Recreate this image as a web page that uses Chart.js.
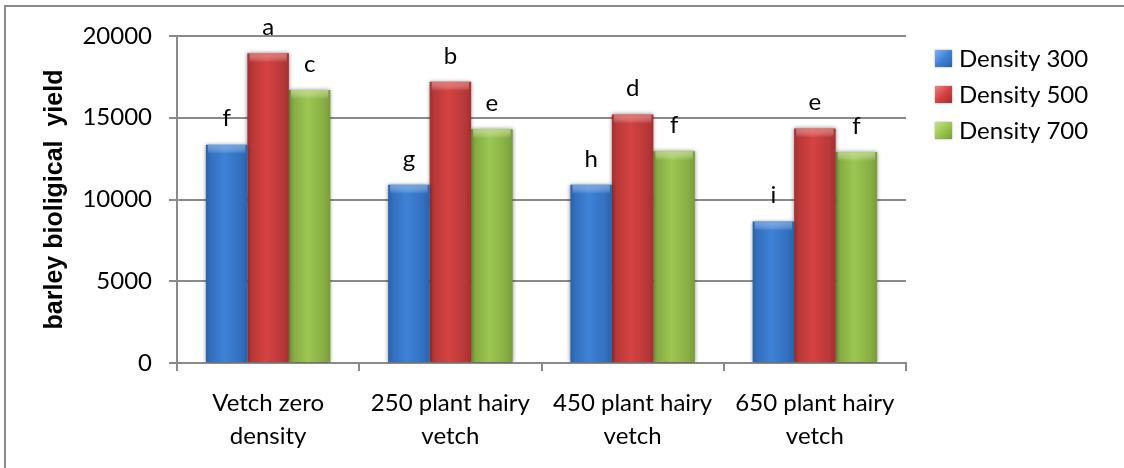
<!DOCTYPE html>
<html>
<head>
<meta charset="utf-8">
<script src="https://cdn.jsdelivr.net/npm/chart.js@4.4.1/dist/chart.umd.min.js"></script>
<style>
  html, body { margin: 0; padding: 0; background: #fff; }
  #wrap { width: 1124px; height: 468px; position: relative; }
  canvas { display: block; }
</style>
</head>
<body>
<div id="wrap"><canvas id="c" width="1124" height="468"></canvas></div>
<script>
// Barley biological yield by vetch density (x) and barley density (series)
const categories = [
  ["Vetch zero", "density"],
  ["250 plant hairy", "vetch"],
  ["450 plant hairy", "vetch"],
  ["650 plant hairy", "vetch"]
];
const seriesNames = ["Density 300", "Density 500", "Density 700"];
const density300 = [13350, 10900, 10900, 8650];
const density500 = [18950, 17200, 15200, 14350];
const density700 = [16700, 14300, 12950, 12900];
// Mean-separation letters shown above each bar
const letters300 = ["f", "g", "h", "i"];
const letters500 = ["a", "b", "d", "e"];
const letters700 = ["c", "e", "f", "f"];
const yTickValues = [0, 5000, 10000, 15000, 20000];
const yAxisTitle = "barley bioligical  yield";

const CAT_PCT = 0.683;
const palettes = [
  { dark: "#2a62aa", mid: "#3e82d6", edge: "#336fbf", light: "#7fb2ee" },
  { dark: "#a33030", mid: "#d64242", edge: "#b83838", light: "#ec8585" },
  { dark: "#789c38", mid: "#9cc752", edge: "#87ad44", light: "#c4e28c" }
];
const seriesLetters = [letters300, letters500, letters700];
const GRID = "#8a8a8a";
const FONT = "Lato, 'Open Sans', sans-serif";

// Horizontal shading across each bar, computed from the category scale
function barFill(ctx) {
  const pal = palettes[ctx.datasetIndex];
  const xs = ctx.chart.scales.x;
  if (!xs || ctx.type !== "data" || !xs.width) return pal.mid;
  const catW = xs.width / categories.length;
  const barW = catW * CAT_PCT / 3;
  const center = xs.getPixelForValue(ctx.dataIndex);
  const left = center - 1.5 * barW + ctx.datasetIndex * barW;
  const g = ctx.chart.ctx.createLinearGradient(left, 0, left + barW, 0);
  g.addColorStop(0, pal.dark);
  g.addColorStop(0.12, pal.edge);
  g.addColorStop(0.45, pal.mid);
  g.addColorStop(0.85, pal.edge);
  g.addColorStop(1, pal.dark);
  return g;
}

const framePlugin = {
  id: "frame",
  beforeDraw(chart) {
    const c = chart.ctx;
    c.save();
    c.fillStyle = "#fff";
    c.fillRect(0, 0, chart.width, chart.height);
    c.strokeStyle = "#8c8c8c";
    c.lineWidth = 2;
    c.beginPath();
    c.moveTo(5, chart.height + 2);
    c.lineTo(5, 6);
    c.lineTo(chart.width + 2, 6);
    c.stroke();
    c.restore();
  }
};

const barDecor = {
  id: "barDecor",
  beforeDatasetsDraw(chart) {
    const c = chart.ctx;
    c.save();
    c.shadowColor = "rgba(0,0,0,0.45)";
    c.shadowBlur = 4;
  },
  afterDatasetsDraw(chart) {
    const c = chart.ctx;
    c.restore();
    // soft bevel along the top of each bar
    chart.data.datasets.forEach((ds, di) => {
      const pal = palettes[di];
      chart.getDatasetMeta(di).data.forEach(el => {
        const w = el.width, x0 = el.x - w / 2, y0 = el.y;
        const g = c.createLinearGradient(0, y0, 0, y0 + 9);
        g.addColorStop(0, pal.light);
        g.addColorStop(1, "rgba(255,255,255,0)");
        c.save();
        c.fillStyle = g;
        c.globalAlpha = 0.7;
        c.fillRect(x0 + 2, y0, w - 4, 9);
        c.restore();
      });
    });
    // letters above bars
    c.save();
    c.font = "24px " + FONT;
    c.fillStyle = "#000";
    c.textAlign = "center";
    c.textBaseline = "middle";
    chart.data.datasets.forEach((ds, di) => {
      chart.getDatasetMeta(di).data.forEach((el, i) => {
        c.fillText(seriesLetters[di][i], el.x, el.y - 26);
      });
    });
    c.restore();
  }
};

const legendPlugin = {
  id: "sideLegend",
  afterDraw(chart) {
    const c = chart.ctx;
    c.save();
    c.font = "24px " + FONT;
    c.textBaseline = "middle";
    c.textAlign = "left";
    chart.data.datasets.forEach((ds, di) => {
      const pal = palettes[di];
      const cy = 58 + di * 36;
      const bx = 935, by = cy - 8, bs = 17;
      const g = c.createLinearGradient(bx, by, bx + bs, by + bs);
      g.addColorStop(0, pal.light);
      g.addColorStop(0.5, pal.mid);
      g.addColorStop(1, pal.dark);
      c.save();
      c.shadowColor = "rgba(0,0,0,0.35)";
      c.shadowBlur = 2;
      c.fillStyle = g;
      c.fillRect(bx, by, bs, bs);
      c.restore();
      c.fillStyle = "#000";
      c.fillText(ds.label, 959, cy + 1);
    });
    c.restore();
  }
};

new Chart(document.getElementById("c"), {
  type: "bar",
  data: {
    labels: categories,
    datasets: [
      { label: seriesNames[0], data: density300, backgroundColor: barFill },
      { label: seriesNames[1], data: density500, backgroundColor: barFill },
      { label: seriesNames[2], data: density700, backgroundColor: barFill }
    ]
  },
  options: {
    responsive: false,
    animation: false,
    devicePixelRatio: 1,
    layout: { padding: { top: 36, right: 218, bottom: 0, left: 0 } },
    datasets: { bar: { barPercentage: 1, categoryPercentage: CAT_PCT, borderWidth: 0 } },
    plugins: { legend: { display: false }, tooltip: { enabled: false } },
    scales: {
      x: {
        offset: true,
        grid: { drawOnChartArea: false, drawTicks: true, tickLength: 8, color: GRID, lineWidth: 2, offset: true },
        border: { color: GRID, width: 2 },
        ticks: { color: "#000", font: { family: FONT, size: 24, lineHeight: 1.375 }, padding: 16, maxRotation: 0, autoSkip: false },
        afterFit(s) { s.height = 105; }
      },
      y: {
        min: 0,
        max: 20000,
        afterBuildTicks(s) { s.ticks = yTickValues.map(v => ({ value: v })); },
        grid: { color: GRID, lineWidth: 2, tickLength: 8 },
        border: { color: GRID, width: 2 },
        ticks: { color: "#000", font: { family: FONT, size: 24 }, padding: 17, callback: v => String(v) },
        title: {
          display: true,
          text: yAxisTitle,
          color: "#000",
          font: { family: "'Liberation Sans', Arial, sans-serif", size: 25, weight: "bold" },
          padding: { top: 40, bottom: 0 }
        },
        afterFit(s) { s.width = 177; }
      }
    }
  },
  plugins: [framePlugin, barDecor, legendPlugin]
});
</script>
</body>
</html>
